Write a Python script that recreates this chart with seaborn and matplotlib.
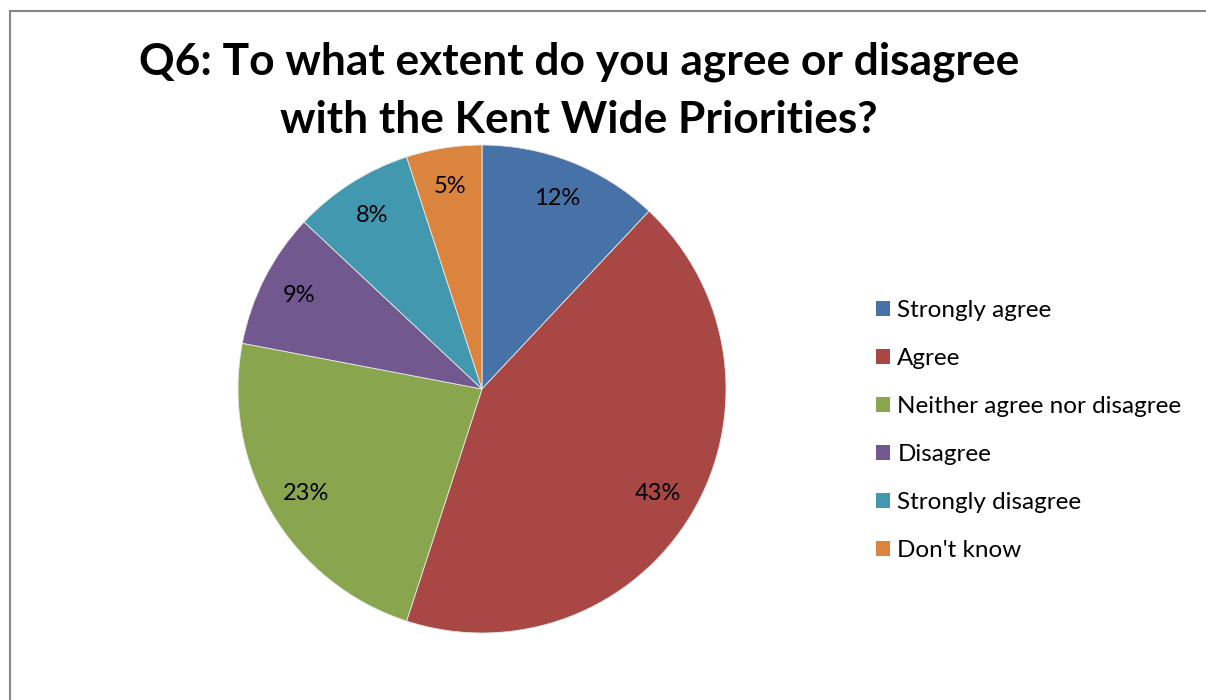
import matplotlib
matplotlib.use('Agg')
import matplotlib.pyplot as plt
from matplotlib.patches import Rectangle, Patch
import seaborn as sns

# ── Duomenys ────────────────────────────────────────────────────────────────
categories = ["Strongly agree", "Agree", "Neither agree nor disagree",
              "Disagree", "Strongly disagree", "Don't know"]
shares = [12, 43, 23, 9, 8, 5]
colors = ["#4672A7", "#A84744", "#89A54E", "#71588F", "#4198AF", "#DB843D"]

TITLE = "Q6: To what extent do you agree or disagree\nwith the Kent Wide Priorities?"

sns.set_theme(style="white")
plt.rcParams['font.family'] = ['Lato', 'DejaVu Sans']
plt.rcParams['text.color'] = 'black'

W, H = 1206, 700
fig = plt.figure(figsize=(W / 100, H / 100), dpi=100)
fig.patch.set_facecolor("white")

# pie area: centre (482, 389) px, radius 244 px
cx, cy, r = 482, 389, 244
ax = fig.add_axes([(cx - r) / W, (H - cy - r) / H, 2 * r / W, 2 * r / H])
wedges, texts, autotexts = ax.pie(
    shares, colors=colors, startangle=90, counterclock=False,
    autopct=lambda p: f"{p:.0f}%", pctdistance=0.84,
    wedgeprops={"edgecolor": "#e8e8e8", "linewidth": 0.6},
    textprops={"fontsize": 17, "color": "black"})
ax.set_xlim(-1, 1)
ax.set_ylim(-1, 1)
ax.axis("off")

fig.text(579 / W, 1 - 91 / H, TITLE, ha="center", va="center",
         fontsize=31.9, fontweight="bold", linespacing=1.56, color="black")

handles = [Patch(facecolor=c, edgecolor="none") for c in colors]
fig.legend(handles, categories, loc="upper left",
           bbox_to_anchor=(876 / W, 1 - 300 / H), frameon=False,
           fontsize=17.5, handlelength=0.58, handleheight=0.58,
           handletextpad=0.3, labelspacing=1.11, borderaxespad=0,
           borderpad=0, labelcolor="black")

# chart frame (cut off on the right and bottom)
fig.patches.append(Rectangle((10 / W, -0.1), 1.2, 1 - 10.5 / H + 0.1,
                             transform=fig.transFigure, fill=False,
                             edgecolor="#868686", linewidth=1.5))

plt.savefig("out.png", dpi=100)
plt.close()
